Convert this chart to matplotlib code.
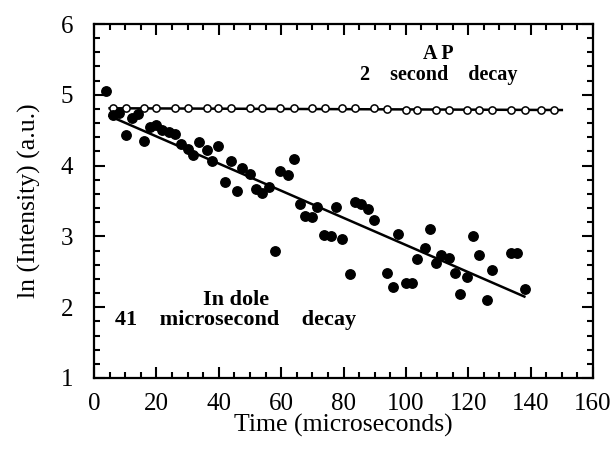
import matplotlib
matplotlib.use("Agg")
import matplotlib.pyplot as plt
from matplotlib.ticker import MultipleLocator

# Indole (filled circles)
indole_t = [4, 6, 7.9, 10.25, 12.25, 14, 15.9, 18.1, 20, 21.75, 24.1, 26, 27.75, 30,
            31.9, 33.75, 36.25, 37.9, 39.75, 42.1, 44, 45.75, 47.5, 50, 51.9, 53.75,
            56, 57.9, 59.6, 62.25, 64, 65.9, 67.75, 69.75, 71.6, 73.9, 76, 77.75,
            79.6, 82, 83.6, 85.6, 87.9, 89.75, 94, 95.9, 97.5, 100, 101.9, 103.5,
            106, 107.75, 109.6, 111.25, 113.75, 115.6, 117.5, 119.75, 121.6, 123.5,
            125.9, 127.75, 133.75, 135.6, 138.1]
indole_ln = [5.05, 4.72, 4.74, 4.43, 4.67, 4.73, 4.35, 4.54, 4.57, 4.50, 4.47, 4.45,
             4.31, 4.23, 4.15, 4.34, 4.22, 4.06, 4.28, 3.77, 4.06, 3.64, 3.96, 3.88,
             3.67, 3.62, 3.70, 2.79, 3.93, 3.87, 4.09, 3.46, 3.29, 3.27, 3.42, 3.02,
             3.00, 3.42, 2.97, 2.47, 3.48, 3.46, 3.38, 3.23, 2.49, 2.28, 3.03, 2.34,
             2.34, 2.68, 2.84, 3.10, 2.62, 2.74, 2.70, 2.49, 2.18, 2.42, 3.00, 2.74,
             2.10, 2.53, 2.76, 2.76, 2.26]
indole_fit_t = [5, 138]
indole_fit_ln = [4.70, 2.15]

# AP (open circles)
ap_t = [6, 10.25, 15.9, 20, 26, 30, 36.25, 39.75, 44, 50, 53.75, 59.6, 64, 69.75, 74,
        79.6, 83.6, 89.75, 94, 100, 103.5, 109.6, 113.75, 119.75, 123.5, 127.75,
        133.75, 138.1, 143.25, 147.5]
ap_ln = [4.81, 4.81, 4.81, 4.81, 4.81, 4.81, 4.81, 4.81, 4.81, 4.81, 4.81, 4.81,
         4.81, 4.81, 4.81, 4.81, 4.81, 4.81, 4.805, 4.785, 4.785, 4.785, 4.785,
         4.785, 4.785, 4.785, 4.785, 4.785, 4.785, 4.785]
ap_fit_t = [5, 150]
ap_fit_ln = [4.81, 4.785]

plt.rcParams['font.family'] = ['Liberation Serif', 'DejaVu Serif']

fig = plt.figure(figsize=(6.13, 4.49), dpi=100)
ax = fig.add_axes([94/613, 1 - 378/449, 499/613, 354/449])

ax.plot(ap_fit_t, ap_fit_ln, color='black', lw=1.8, zorder=2)
ax.plot(ap_t, ap_ln, 'o', mfc='white', mec='black', mew=1.1, ms=5.2, zorder=3)
ax.plot(indole_fit_t, indole_fit_ln, color='black', lw=1.8, zorder=2)
ax.plot(indole_t, indole_ln, 'o', color='black', ms=6.8, zorder=3)

ax.set_xlim(0, 160)
ax.set_ylim(1, 6)
ax.xaxis.set_major_locator(MultipleLocator(20))
ax.xaxis.set_minor_locator(MultipleLocator(5))
ax.yaxis.set_major_locator(MultipleLocator(1))
ax.yaxis.set_minor_locator(MultipleLocator(0.2))
ax.tick_params(which='both', direction='in', top=True, right=True, width=1.5,
               labelsize=18, colors='black')
ax.tick_params(which='major', length=8)
ax.tick_params(which='minor', length=4.5)
ax.tick_params(axis='x', which='major', pad=11)
ax.tick_params(axis='y', which='major', pad=15)
for s in ax.spines.values():
    s.set_linewidth(1.6)

ax.set_xlabel('Time (microseconds)', fontsize=18.5, labelpad=-1)
ax.set_ylabel('ln (Intensity) (a.u.)', fontsize=18.5, labelpad=14)

ax.text(110.5, 5.21, 'A P\n2    second    decay', ha='center', va='baseline',
        multialignment='center', linespacing=1.05, fontsize=14.5, fontweight='bold')
ax.text(45.5, 1.75, 'In dole\n41    microsecond    decay', ha='center', va='baseline',
        multialignment='center', linespacing=0.97, fontsize=16, fontweight='bold')

fig.savefig('out.png', dpi=100)
